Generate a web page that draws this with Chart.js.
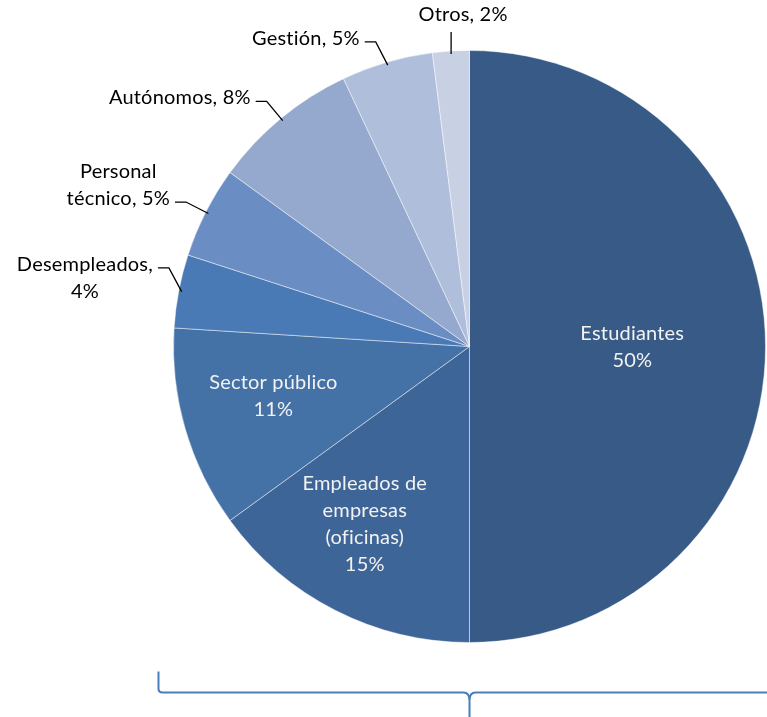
<!DOCTYPE html>
<html lang="es">
<head>
<meta charset="utf-8">
<title>Perfil de los participantes</title>
<script src="https://cdn.jsdelivr.net/npm/chart.js@4.4.1/dist/chart.umd.min.js"></script>
<style>
    html, body { margin: 0; padding: 0; background: #fff; overflow: hidden; }
    #wrap { position: relative; width: 767px; height: 717px; }
</style>
</head>
<body>
<div id="wrap"><canvas id="pieChart"></canvas></div>
<script>
// ==========================================
// Datos
// ==========================================
const categories = ['Estudiantes', 'Empleados de empresas (oficinas)', 'Sector público', 'Desempleados',
    'Personal técnico', 'Autónomos', 'Gestión', 'Otros'];
const shares = [50, 15, 11, 4, 5, 8, 5, 2];
const sliceColors = ['#375A86', '#3E6597', '#4572A6', '#4A7AB5', '#6A8EC3', '#95A9CF', '#AFBEDB', '#C8D0E4'];

// Cómo se parte cada etiqueta en líneas ({p} = porcentaje)
const labelLines = [
    ['Estudiantes', '{p}'],
    ['Empleados de', 'empresas', '(oficinas)', '{p}'],
    ['Sector público', '{p}'],
    ['Desempleados,', '{p}'],
    ['Personal', 'técnico, {p}'],
    ['Autónomos, {p}'],
    ['Gestión, {p}'],
    ['Otros, {p}']
];

const FONT = '20px Lato, "Open Sans", sans-serif';
const LINE_H = 27;

// ==========================================
// Etiquetas: dentro del sector o fuera con línea guía
// ==========================================
const sliceLabels = {
    id: 'sliceLabels',
    afterDatasetsDraw(chart, args, opts) {
        const ctx = chart.ctx;
        const arcs = chart.getDatasetMeta(0).data;
        const total = shares.reduce((a, b) => a + b, 0);
        const tweaks = opts.tweaks || {};

        ctx.save();
        ctx.font = FONT;
        ctx.letterSpacing = '0.2px'; // evita ligaduras tipo "ti"
        ctx.textBaseline = 'alphabetic';

        arcs.forEach((arc, i) => {
            const pct = Math.round(shares[i] / total * 100) + '%';
            const lines = labelLines[i].map(l => l.replace('{p}', pct));
            const mid = (arc.startAngle + arc.endAngle) / 2;
            const cos = Math.cos(mid), sin = Math.sin(mid);
            const R = arc.outerRadius;
            const tw = tweaks[categories[i]] || { dx: 0, dy: 0 };

            if (shares[i] >= 10) {
                // dentro del sector
                const k = shares[i] >= 50 ? 0.55 : 0.69;
                const cx = arc.x + cos * R * k + tw.dx;
                const cy = arc.y + sin * R * k + tw.dy;
                const top = cy - lines.length * LINE_H / 2;
                ctx.fillStyle = '#F2F2F2';
                ctx.textAlign = 'center';
                lines.forEach((l, j) => ctx.fillText(l, cx, top + j * LINE_H + 20));
                return;
            }

            const sx = arc.x + cos * R * 0.99;
            const sy = arc.y + sin * R * 0.99;
            ctx.strokeStyle = '#000';
            ctx.lineWidth = 1.3;
            ctx.fillStyle = '#000';

            if (Math.abs(cos) < 0.15) {
                // casi vertical: línea recta hacia arriba y texto encima
                const ey = arc.y + sin * R * 1.065;
                ctx.beginPath();
                ctx.moveTo(sx, sy);
                ctx.lineTo(sx, ey);
                ctx.stroke();
                ctx.textAlign = 'center';
                ctx.fillText(lines[0], sx + 12, ey - 11);
                return;
            }

            const ex = arc.x + cos * R * 1.075 + tw.dx;
            const ey = arc.y + sin * R * 1.075 + tw.dy;
            const hx = ex - 11;
            ctx.beginPath();
            ctx.moveTo(sx, sy);
            ctx.lineTo(ex, ey);
            ctx.lineTo(hx, ey);
            ctx.stroke();

            // bloque de texto a la izquierda; la línea con coma va a la altura de la guía
            const widths = lines.map(l => ctx.measureText(l).width);
            const blockW = Math.max(...widths);
            const right = hx - 5;
            const centerX = right - blockW / 2;
            const anchor = Math.max(0, lines.findIndex(l => l.includes(',')));
            ctx.textAlign = 'center';
            lines.forEach((l, j) => {
                const x = lines.length > 1 ? centerX : right - widths[j] / 2;
                ctx.fillText(l, x, ey + 3 + (j - anchor) * LINE_H);
            });
        });
        ctx.restore();
    }
};

// ==========================================
// Llave inferior bajo el gráfico
// ==========================================
const bottomBrace = {
    id: 'bottomBrace',
    afterDraw(chart) {
        const arc = chart.getDatasetMeta(0).data[0];
        const ctx = chart.ctx;
        const R = arc.outerRadius;
        const left = arc.x - R - 15;
        const right = chart.width + 2;
        const y = arc.y + R + 50;
        const top = y - 21;
        const tip = arc.x;
        const bottom = chart.height + 2;

        ctx.save();
        ctx.strokeStyle = '#4A7EBB';
        ctx.lineWidth = 2;
        ctx.beginPath();
        ctx.moveTo(left, top);
        ctx.lineTo(left, y - 4);
        ctx.quadraticCurveTo(left, y, left + 4, y);
        ctx.lineTo(tip - 6, y);
        ctx.quadraticCurveTo(tip, y, tip, y + 8);
        ctx.lineTo(tip, bottom);
        ctx.moveTo(tip, y + 8);
        ctx.quadraticCurveTo(tip, y, tip + 6, y);
        ctx.lineTo(right, y);
        ctx.stroke();
        ctx.restore();
    }
};

new Chart(document.getElementById('pieChart'), {
    type: 'pie',
    data: {
        labels: categories,
        datasets: [{
            data: shares,
            backgroundColor: sliceColors,
            borderColor: 'rgba(255, 255, 255, 0.45)',
            borderWidth: 1
        }]
    },
    options: {
        responsive: true,
        maintainAspectRatio: false,
        animation: false,
        layout: { padding: { left: 173, right: 1, top: 50, bottom: 74 } },
        plugins: {
            legend: { display: false },
            tooltip: { enabled: false },
            sliceLabels: {
                tweaks: {
                    'Empleados de empresas (oficinas)': { dx: -12, dy: -4 },
                    'Sector público': { dx: 0, dy: -7 },
                    'Desempleados': { dx: 12, dy: -19 },
                    'Gestión': { dx: -5, dy: 1 }
                }
            }
        }
    },
    plugins: [sliceLabels, bottomBrace]
});
</script>
</body>
</html>
